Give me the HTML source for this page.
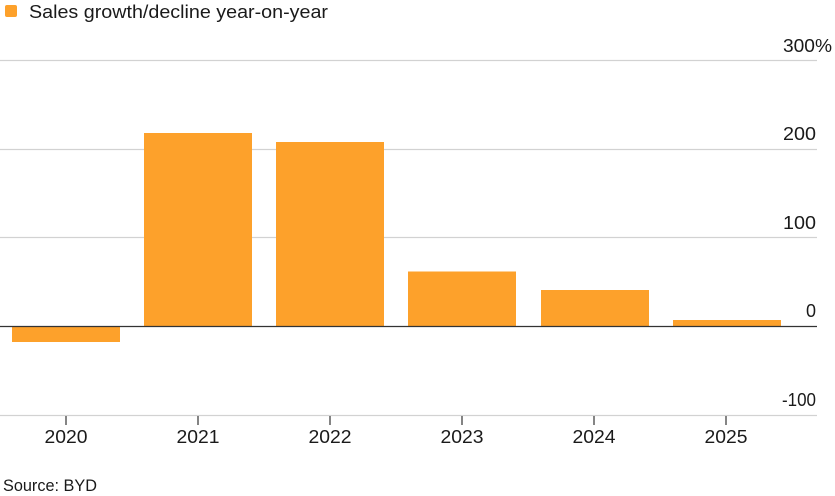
<!DOCTYPE html>
<html>
<head>
<meta charset="utf-8">
<style>
html,body{margin:0;padding:0;background:#fff;}
svg{display:block;}
text{font-family:"Liberation Sans",Arial,sans-serif;fill:#1a1a1a;}
</style>
</head>
<body>
<svg width="835" height="496" viewBox="0 0 835 496" xmlns="http://www.w3.org/2000/svg">
  <!-- legend -->
  <rect x="5" y="5" width="12" height="12" rx="2" fill="#fda12b"/>
  <text x="29" y="18" font-size="18.5" textLength="299" lengthAdjust="spacingAndGlyphs">Sales growth/decline year-on-year</text>

  <!-- gridlines -->
  <g stroke="#d2d2d2" stroke-width="1.2">
    <line x1="0" y1="60.5" x2="817" y2="60.5"/>
    <line x1="0" y1="149.5" x2="817" y2="149.5"/>
    <line x1="0" y1="237.5" x2="817" y2="237.5"/>
    <line x1="0" y1="415.5" x2="817" y2="415.5"/>
  </g>

  <!-- y labels -->
  <g font-size="18">
    <text x="783" y="52" textLength="49" lengthAdjust="spacingAndGlyphs">300%</text>
    <text x="783" y="140" textLength="33" lengthAdjust="spacingAndGlyphs">200</text>
    <text x="783" y="229" textLength="33" lengthAdjust="spacingAndGlyphs">100</text>
    <text x="816" y="317" text-anchor="end">0</text>
    <text x="782" y="406" textLength="34" lengthAdjust="spacingAndGlyphs">-100</text>
  </g>

  <!-- bars -->
  <g fill="#fda12b">
    <rect x="12" y="326.5" width="108" height="15.5"/>
    <rect x="144" y="133" width="108" height="193.5"/>
    <rect x="276" y="142" width="108" height="184.5"/>
    <rect x="408" y="271.5" width="108" height="55"/>
    <rect x="541" y="290" width="108" height="36.5"/>
    <rect x="673" y="320" width="108" height="6.5"/>
  </g>

  <!-- zero line -->
  <line x1="0" y1="326.5" x2="817" y2="326.5" stroke="#333" stroke-width="1.2"/>

  <!-- ticks -->
  <g stroke="#333" stroke-width="1.2">
    <line x1="66" y1="416" x2="66" y2="425"/>
    <line x1="198" y1="416" x2="198" y2="425"/>
    <line x1="330" y1="416" x2="330" y2="425"/>
    <line x1="462" y1="416" x2="462" y2="425"/>
    <line x1="594" y1="416" x2="594" y2="425"/>
    <line x1="726" y1="416" x2="726" y2="425"/>
  </g>

  <!-- x labels -->
  <g font-size="18">
    <text x="44.5" y="443" textLength="43" lengthAdjust="spacingAndGlyphs">2020</text>
    <text x="176.5" y="443" textLength="43" lengthAdjust="spacingAndGlyphs">2021</text>
    <text x="308.5" y="443" textLength="43" lengthAdjust="spacingAndGlyphs">2022</text>
    <text x="440.5" y="443" textLength="43" lengthAdjust="spacingAndGlyphs">2023</text>
    <text x="572.5" y="443" textLength="43" lengthAdjust="spacingAndGlyphs">2024</text>
    <text x="704.5" y="443" textLength="43" lengthAdjust="spacingAndGlyphs">2025</text>
  </g>

  <!-- source -->
  <text x="3" y="491" font-size="16.5" textLength="94" lengthAdjust="spacingAndGlyphs">Source: BYD</text>
</svg>
</body>
</html>
